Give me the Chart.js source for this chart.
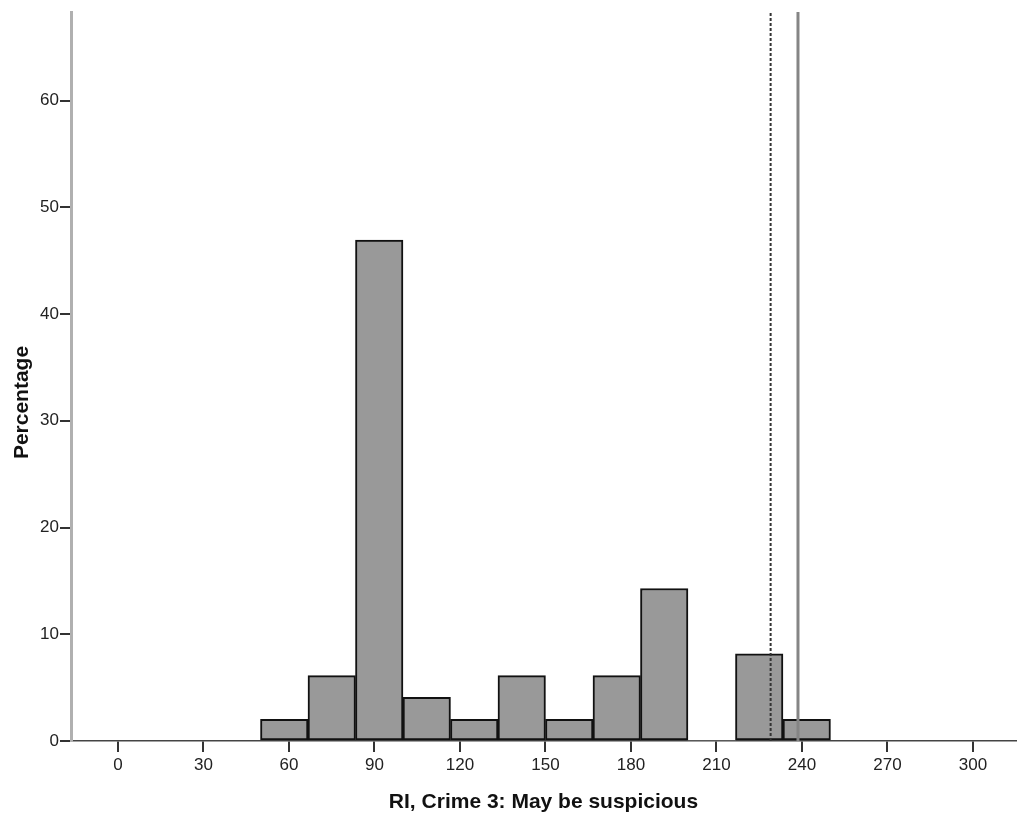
<!DOCTYPE html>
<html>
<head>
<meta charset="utf-8">
<script src="https://cdn.jsdelivr.net/npm/chart.js@4/dist/chart.umd.min.js"></script>
<style>
  html, body { margin: 0; padding: 0; background: #ffffff; }
  #wrap { width: 1018px; height: 821px; }
</style>
</head>
<body>
<div id="wrap"><canvas id="c" width="1018" height="821"></canvas></div>
<script>
// Histogram bin edges (RI values) and percentage in each bin
const binEdges = [50, 66.67, 83.33, 100, 116.67, 133.33, 150, 166.67, 183.33, 200, 216.67, 233.33, 250];
const percentages = [2.04, 6.12, 46.94, 4.08, 2.04, 6.12, 2.04, 6.12, 14.29, 0, 8.16, 2.04];
// Reference lines
const dashedLineX = [229.0];
const solidLineX = [238.6];
// Axis ticks
const xTickValues = [0, 30, 60, 90, 120, 150, 180, 210, 240, 270, 300];
const yTickValues = [0, 10, 20, 30, 40, 50, 60];
const xTitle = 'RI, Crime 3: May be suspicious';
const yTitle = 'Percentage';

const X_MIN = -16.49, X_MAX = 315.1, Y_MIN = 0, Y_MAX = 68.3;

const barData = percentages.map((p, i) => ({ x: (binEdges[i] + binEdges[i + 1]) / 2, y: p }));
const vline = (x) => [{ x: x, y: Y_MIN }, { x: x, y: Y_MAX }];

const FAMILY = '"Liberation Sans", Arial, sans-serif';
const tickFont = { family: FAMILY, size: 17 };
const titleFont = { family: FAMILY, size: 21, weight: 'bold' };

// Y-axis title drawn at the position used by the original (slightly below the plot centre)
const yTitlePlugin = {
  id: 'yTitle',
  afterDraw(chart) {
    const ctx = chart.ctx;
    const area = chart.chartArea;
    ctx.save();
    ctx.translate(22, area.top + (area.bottom - area.top) / 2 + 26);
    ctx.rotate(-Math.PI / 2);
    ctx.font = 'bold 21px ' + FAMILY;
    ctx.fillStyle = '#111111';
    ctx.textAlign = 'center';
    ctx.textBaseline = 'middle';
    ctx.fillText(yTitle, 0, 0);
    ctx.restore();
  }
};

new Chart(document.getElementById('c'), {
  type: 'bar',
  data: {
    datasets: [
      {
        type: 'line',
        data: vline(dashedLineX[0]),
        borderColor: '#333333',
        borderWidth: 2,
        borderDash: [3, 2],
        pointRadius: 0,
        fill: false
      },
      {
        type: 'line',
        data: vline(solidLineX[0]),
        borderColor: '#858585',
        borderWidth: 3,
        pointRadius: 0,
        fill: false
      },
      {
        type: 'bar',
        data: barData,
        backgroundColor: '#999999',
        borderColor: '#111111',
        borderWidth: (ctx) => (ctx.raw && ctx.raw.y > 0 ? 2 : 0),
        borderSkipped: false,
        barPercentage: 1.0,
        categoryPercentage: 1.0
      }
    ]
  },
  options: {
    responsive: false,
    animation: false,
    events: [],
    layout: { padding: { top: 12, right: 2, left: 0, bottom: 0 } },
    plugins: { legend: { display: false }, tooltip: { enabled: false } },
    scales: {
      x: {
        type: 'linear',
        offset: false,
        min: X_MIN,
        max: X_MAX,
        afterBuildTicks: (s) => { s.ticks = xTickValues.map(v => ({ value: v })); },
        afterFit: (s) => { s.height = 80; },
        grid: { display: true, offset: false, drawOnChartArea: false, drawTicks: true, tickLength: 11, color: '#333333', lineWidth: 2 },
        border: { display: true, color: '#444444', width: 1.5 },
        ticks: { color: '#222222', font: tickFont, padding: 3, maxRotation: 0, autoSkip: false },
        title: { display: true, text: xTitle, color: '#111111', font: titleFont, padding: { top: 0, bottom: 6 } }
      },
      y: {
        type: 'linear',
        min: Y_MIN,
        max: Y_MAX,
        afterBuildTicks: (s) => { s.ticks = yTickValues.map(v => ({ value: v })); },
        afterFit: (s) => { s.width = 71; },
        grid: { display: true, drawOnChartArea: false, drawTicks: true, tickLength: 11, color: '#333333', lineWidth: 2 },
        border: { display: true, color: '#b0b0b0', width: 3 },
        ticks: { color: '#222222', font: tickFont, padding: 1 },
        title: { display: false }
      }
    }
  },
  plugins: [yTitlePlugin]
});
</script>
</body>
</html>
